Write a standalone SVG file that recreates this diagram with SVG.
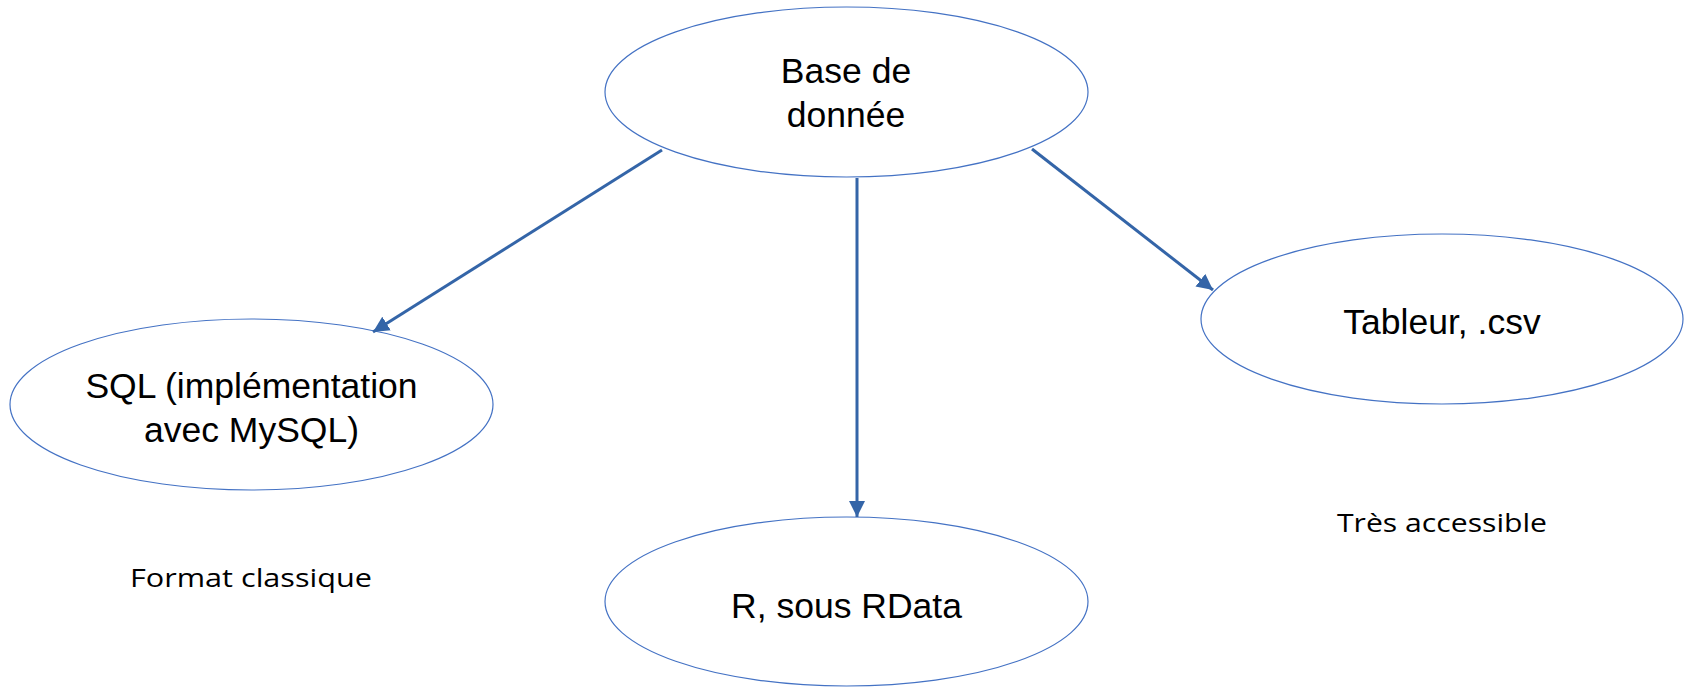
<svg xmlns="http://www.w3.org/2000/svg" width="1686" height="687" viewBox="0 0 1686 687">
  <style>
    .node ellipse { fill: #ffffff; stroke: #4472C4; stroke-width: 1.2; }
    .lbl { font-family: "Liberation Sans", Arial, sans-serif; font-size: 35.5px; fill: #000000; text-anchor: middle; }
    .note { font-family: "Open Sans", "Noto Sans", sans-serif; font-size: 26px; fill: #000000; }
    .edge { stroke: #3465A8; stroke-width: 3; fill: none; marker-end: url(#arrow); }
  </style>
  <defs>
    <marker id="arrow" markerUnits="userSpaceOnUse" markerWidth="17" markerHeight="17" viewBox="0 0 17 17" refX="16" refY="8.5" orient="auto">
      <path d="M0,0.5 L16,8.5 L0,16.5 Z" fill="#3465A8"/>
    </marker>
  </defs>
  <rect width="1686" height="687" fill="#ffffff"/>

  <g id="node-base" class="node">
    <ellipse cx="846.5" cy="92" rx="241.5" ry="85"/>
    <text class="lbl" x="846" y="83">Base de</text>
    <text class="lbl" x="846" y="127">donnée</text>
  </g>
  <g id="node-sql" class="node">
    <ellipse cx="251.5" cy="404.5" rx="241.5" ry="85.5"/>
    <text class="lbl" x="251.5" y="398">SQL (implémentation</text>
    <text class="lbl" x="251.5" y="442">avec MySQL)</text>
  </g>
  <g id="node-r" class="node">
    <ellipse cx="846.5" cy="601.5" rx="241.5" ry="84.5"/>
    <text class="lbl" x="846.5" y="618">R, sous RData</text>
  </g>
  <g id="node-tableur" class="node">
    <ellipse cx="1442" cy="319" rx="241" ry="85"/>
    <text class="lbl" x="1442" y="334">Tableur, .csv</text>
  </g>

  <g id="connectors">
    <line class="edge" x1="662" y1="150" x2="373" y2="332"/>
    <line class="edge" x1="857" y1="178" x2="857" y2="517"/>
    <line class="edge" x1="1032" y1="149" x2="1213" y2="290"/>
  </g>

  <g id="notes">
    <text class="note" x="130" y="587" textLength="242" lengthAdjust="spacingAndGlyphs">Format classique</text>
    <text class="note" x="1337" y="532" textLength="210" lengthAdjust="spacingAndGlyphs">Très accessible</text>
  </g>
</svg>
